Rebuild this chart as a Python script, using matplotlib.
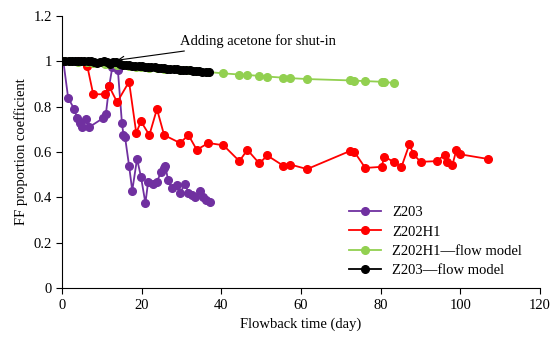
import matplotlib
matplotlib.use("Agg")
import matplotlib.pyplot as plt

plt.rcParams['font.family'] = ['Liberation Serif', 'DejaVu Serif']

# Z203 measured
z203_x = [0.3, 1.5, 3.0, 3.8, 4.5, 5.0, 6.0, 6.8, 10.3, 11.0, 11.8, 12.6, 14.0,
          15.0, 15.4, 15.8, 16.8, 17.6, 18.8, 19.8, 20.9, 21.6, 22.9, 23.8, 24.8,
          25.5, 25.9, 26.6, 27.6, 28.9, 29.6, 30.9, 31.7, 32.7, 33.4, 34.7, 35.4,
          36.2, 37.0]
z203_y = [1.0, 0.84, 0.79, 0.75, 0.73, 0.71, 0.745, 0.71, 0.75, 0.77, 0.89, 0.975, 0.96,
          0.73, 0.675, 0.665, 0.54, 0.43, 0.57, 0.49, 0.375, 0.47, 0.46, 0.47, 0.51,
          0.53, 0.54, 0.475, 0.44, 0.455, 0.42, 0.46, 0.42, 0.41, 0.40, 0.43, 0.40,
          0.39, 0.38]

# Z202H1 measured
z202_x = [0, 2, 4, 6.3, 7.8, 10.8, 11.8, 13.8, 16.8, 18.6, 19.8, 21.9, 23.8, 25.6,
          29.6, 31.7, 33.8, 36.7, 40.5, 44.5, 46.5, 49.5, 51.5, 55.5, 57.3, 61.5,
          72.3, 73.4, 76.1, 80.2, 80.9, 83.2, 85.2, 87.2, 88.2, 90, 94, 96, 96.7,
          98, 99, 100, 106.8]
z202_y = [1.0, 1.0, 1.0, 0.98, 0.855, 0.855, 0.89, 0.82, 0.91, 0.685, 0.735, 0.675, 0.79, 0.675,
          0.64, 0.675, 0.61, 0.64, 0.63, 0.56, 0.61, 0.55, 0.585, 0.54, 0.545, 0.525,
          0.605, 0.60, 0.53, 0.535, 0.58, 0.557, 0.535, 0.635, 0.59, 0.557, 0.56, 0.587, 0.555,
          0.545, 0.61, 0.59, 0.57]

# Z202H1 flow model
z202m_x = [0, 2, 4, 6.3, 7.8, 10.8, 11.8, 13.8, 16.8, 18.6, 19.8, 21.9, 23.8, 25.6,
           29.6, 31.7, 33.8, 36.7, 40.5, 44.5, 46.5, 49.5, 51.5, 55.5, 57.3, 61.5,
           72.3, 73.4, 76.1, 80.2, 80.9, 83.2]
z202m_y = [1.0, 1.0, 0.998, 0.995, 0.993, 0.99, 0.988, 0.985, 0.98, 0.977, 0.975, 0.972, 0.97, 0.967,
           0.962, 0.96, 0.957, 0.953, 0.947, 0.942, 0.94, 0.936, 0.933, 0.928, 0.926, 0.922,
           0.916, 0.915, 0.913, 0.91, 0.909, 0.905]

# Z203 flow model
z203m_x = [0, 0.8, 1.6, 2.4, 3.2, 4.0, 4.8, 5.6, 6.4, 7.2, 8.0, 8.8, 9.6, 10.4, 11.2,
           12.0, 12.8, 13.6, 14.4, 15.2, 16.0, 16.8, 17.6, 18.4, 19.2, 20.0, 20.8,
           21.6, 22.4, 23.2, 24.0, 24.8, 25.6, 26.4, 27.2, 28.0, 28.8, 29.6, 30.4,
           31.2, 32.0, 32.8, 33.6, 34.4, 35.2, 36.0, 36.8]
z203m_y = [1.0, 1.0, 1.0, 1.0, 1.0, 1.0, 1.0, 1.0, 1.0, 1.0, 0.997, 0.993, 0.998, 1.0, 0.998,
           0.99, 0.997, 0.997, 0.99, 0.986, 0.984, 0.983, 0.981, 0.980, 0.979, 0.978, 0.977,
           0.975, 0.974, 0.973, 0.972, 0.971, 0.969, 0.968, 0.967, 0.966, 0.965, 0.963, 0.962,
           0.961, 0.960, 0.959, 0.957, 0.956, 0.955, 0.954, 0.953]

fig = plt.figure(figsize=(5.5, 3.48), dpi=100)
ax = fig.add_axes([0.113, 0.172, 0.869, 0.782])

ax.plot(z203_x, z203_y, color='#7030A0', marker='o', markersize=5.5, lw=1.3, label='Z203')
ax.plot(z202_x, z202_y, color='#FF0000', marker='o', markersize=5.5, lw=1.3, label='Z202H1')
ax.plot(z202m_x, z202m_y, color='#92D050', marker='o', markersize=5.5, lw=1.3,
        label='Z202H1\u2014flow model')
ax.plot(z203m_x, z203m_y, color='black', marker='o', markersize=5.5, lw=1.3,
        label='Z203\u2014flow model')

ax.annotate('Adding acetone for shut-in', xy=(13.8, 1.005), xytext=(29.5, 1.09),
            fontsize=10.5, va='center',
            arrowprops=dict(arrowstyle='->', color='black', lw=0.8, shrinkA=2, shrinkB=0))

ax.set_xlim(0, 120)
ax.set_ylim(0, 1.2)
ax.set_xticks([0, 20, 40, 60, 80, 100, 120])
ax.set_yticks([0, 0.2, 0.4, 0.6, 0.8, 1.0, 1.2])
ax.set_yticklabels(['0', '0.2', '0.4', '0.6', '0.8', '1', '1.2'])
ax.tick_params(direction='out', length=4, labelsize=10.5)
ax.spines['top'].set_visible(False)
ax.spines['right'].set_visible(False)
ax.set_xlabel('Flowback time (day)', fontsize=10.5)
ax.set_ylabel('FF proportion coefficient', fontsize=10.5)

ax.legend(loc='lower right', bbox_to_anchor=(0.99, -0.008), frameon=False, fontsize=10.5,
          handlelength=2.2, labelspacing=0.42)

fig.savefig('out.png', dpi=100)
